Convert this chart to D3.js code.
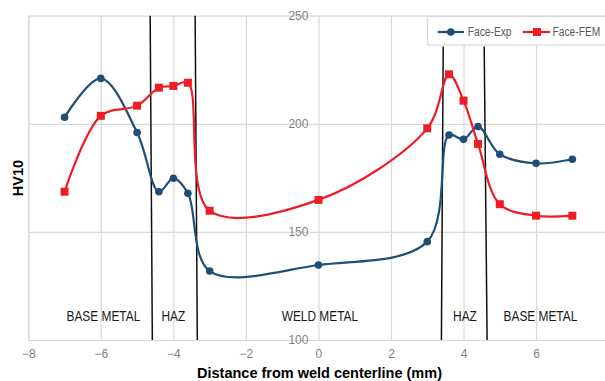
<!DOCTYPE html>
<html>
<head>
<meta charset="utf-8">
<script src="https://cdn.jsdelivr.net/npm/d3@7"></script>
<style>
  html, body { margin: 0; padding: 0; background: #fff; }
  svg { display: block; }
</style>
</head>
<body>
<svg id="chart" width="605" height="381"></svg>
<script>
// ---- data ----
const expX   = [-7, -6, -5, -4.4, -4, -3.6, -3, 0, 3, 3.6, 4, 4.4, 5, 6, 7];
const expY   = [203, 221, 196, 168.6, 174.8, 167.9, 131.9, 134.7, 145.5, 194.8, 192.8, 198.7, 185.9, 181.7, 183.6];
const femX   = [-7, -6, -5, -4.4, -4, -3.6, -3, 0, 3, 3.6, 4, 4.4, 5, 6, 7];
const femY   = [168.6, 203.7, 208.4, 216.7, 217.5, 219, 159.8, 164.8, 197.9, 222.9, 210.7, 190.7, 162.8, 157.5, 157.5];
const seriesNames = ["Face-Exp", "Face-FEM"];
const xTicks = [-8, -6, -4, -2, 0, 2, 4, 6, 8];
const yTicks = [100, 150, 200, 250];
// zone boundaries: x at top, x at bottom, top value
const boundTopX    = [-4.64, -3.40, 3.44, 4.57];
const boundBottomX = [-4.58, -3.34, 3.39, 4.65];
const boundTopV    = [250, 250, 235.7, 235.7];
const zoneNames = ["BASE METAL", "HAZ", "WELD METAL", "HAZ", "BASE METAL"];
const zoneX     = [-5.93, -4.0, 0.04, 4.04, 6.12];
const zoneV     = 111;

// ---- layout ----
const svg = d3.select("#chart");
const x = d3.scaleLinear().domain([-8, 8]).range([28.3, 608.6]);
const y = d3.scaleLinear().domain([100, 250]).range([340, 15.7]);
const plotW = x(8) - x(-8);
const plotH = y(100) - y(250);
const gridColor = "#d9d9d9";
const tickColor = "#7f7f7f";
const blue = "#1f4e79";
const red = "#ee1c24";
const narrow = 0.82;

// vertical gridlines
const gx = svg.append("g").attr("transform", `translate(0,${y(100)})`)
  .call(d3.axisBottom(x).tickValues(xTicks).tickSize(-plotH).tickPadding(9).tickFormat(d3.format("d")));
gx.select(".domain").attr("stroke", gridColor).attr("stroke-width", 1.2);
gx.selectAll(".tick line").attr("stroke", gridColor).attr("stroke-width", 1.2);
gx.selectAll(".tick text").attr("fill", tickColor)
  .style("font-family", "'Liberation Sans', Arial, sans-serif").style("font-size", "12px");

// horizontal gridlines
const gy = svg.append("g").attr("transform", `translate(${x(-8)},0)`)
  .call(d3.axisLeft(y).tickValues(yTicks).tickSize(-plotW).tickFormat(""));
gy.select(".domain").remove();
gy.selectAll(".tick line").attr("stroke", gridColor).attr("stroke-width", 1.2);

// y labels at the x=0 axis
const gyl = svg.append("g").attr("transform", `translate(${x(0)},0)`)
  .call(d3.axisLeft(y).tickValues(yTicks).tickSize(0).tickPadding(10).tickFormat(d3.format("d")));
gyl.select(".domain").remove();
gyl.selectAll(".tick text").attr("fill", tickColor)
  .style("font-family", "'Liberation Sans', Arial, sans-serif").style("font-size", "12px");

// zone boundary lines
svg.append("g").selectAll("line").data(boundTopX).join("line")
  .attr("x1", (d) => x(d)).attr("y1", (d, i) => y(boundTopV[i]))
  .attr("x2", (d, i) => x(boundBottomX[i])).attr("y2", y(100))
  .attr("stroke", "#111").attr("stroke-width", 1.5);

// zone labels (horizontally condensed to mimic a narrow face)
svg.append("g").selectAll("text").data(zoneNames).join("text")
  .attr("transform", (d, i) => `translate(${x(zoneX[i])},${y(zoneV)}) scale(${narrow},1)`)
  .attr("text-anchor", "middle").attr("dominant-baseline", "central")
  .attr("fill", "#1a1a1a")
  .style("font-family", "'Liberation Sans', Arial, sans-serif")
  .style("font-size", "14.5px")
  .text((d) => d);

// series
const line = d3.line().x((d) => x(d[0])).y((d) => y(d[1])).curve(d3.curveCatmullRom.alpha(0.5));
const expData = expX.map((v, i) => [v, expY[i]]);
const femData = femX.map((v, i) => [v, femY[i]]);

svg.append("path").datum(expData).attr("d", line)
  .attr("fill", "none").attr("stroke", blue).attr("stroke-width", 2.2);
svg.append("path").datum(femData).attr("d", line)
  .attr("fill", "none").attr("stroke", red).attr("stroke-width", 2.2);

svg.append("g").selectAll("circle").data(expData).join("circle")
  .attr("cx", (d) => x(d[0])).attr("cy", (d) => y(d[1])).attr("r", 3.8).attr("fill", blue);
const sq = 8;
svg.append("g").selectAll("rect").data(femData).join("rect")
  .attr("x", (d) => x(d[0]) - sq / 2).attr("y", (d) => y(d[1]) - sq / 2)
  .attr("width", sq).attr("height", sq).attr("fill", red);

// legend
const lg = svg.append("g");
lg.append("rect").attr("x", 427.7).attr("y", 16.5).attr("width", 190).attr("height", 28.5)
  .attr("fill", "#fff").attr("stroke", gridColor).attr("stroke-width", 1.2);
const ly = 32;
lg.append("line").attr("x1", 437.7).attr("x2", 464).attr("y1", ly).attr("y2", ly)
  .attr("stroke", blue).attr("stroke-width", 2.2);
lg.append("circle").attr("cx", 450.8).attr("cy", ly).attr("r", 3.8).attr("fill", blue);
lg.append("line").attr("x1", 522.7).attr("x2", 550).attr("y1", ly).attr("y2", ly)
  .attr("stroke", red).attr("stroke-width", 2.2);
lg.append("rect").attr("x", 537 - sq / 2).attr("y", ly - sq / 2).attr("width", sq).attr("height", sq).attr("fill", red);
lg.selectAll("text.leg").data(seriesNames).join("text").attr("class", "leg")
  .attr("transform", (d, i) => `translate(${[467.7, 552.5][i]},${ly}) scale(${narrow},1)`)
  .attr("dominant-baseline", "central").attr("fill", "#595959")
  .style("font-family", "'Liberation Sans', Arial, sans-serif")
  .style("font-size", "12.5px")
  .text((d) => d);

// axis titles
svg.append("text").attr("x", 319.5).attr("y", 373).attr("text-anchor", "middle")
  .attr("dominant-baseline", "central").attr("fill", "#000")
  .style("font-family", "'Liberation Sans', Arial, sans-serif").style("font-weight", "bold").style("font-size", "14.5px")
  .text("Distance from weld centerline (mm)");
svg.append("text").attr("transform", "translate(18,178) rotate(-90)").attr("text-anchor", "middle")
  .attr("dominant-baseline", "central").attr("fill", "#000")
  .style("font-family", "'Liberation Sans', Arial, sans-serif").style("font-weight", "bold").style("font-size", "14.5px")
  .text("HV10");
</script>
</body>
</html>
